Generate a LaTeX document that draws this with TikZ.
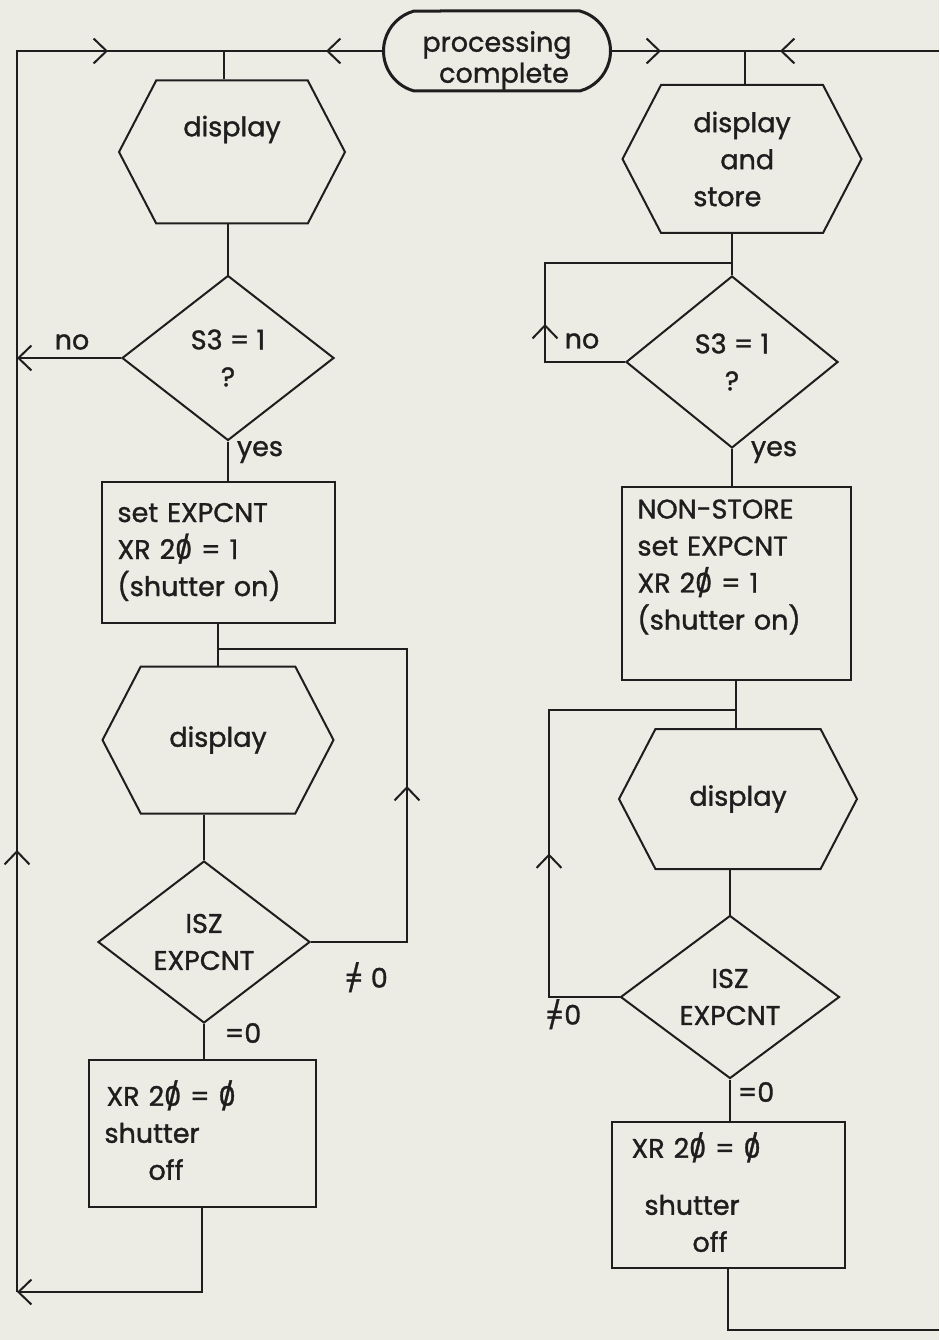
\documentclass[tikz,border=0pt]{standalone}
\usepackage{fontspec}
\setmainfont{Poppins}[FakeBold=1.2]
\usetikzlibrary{positioning,arrows.meta,shapes.geometric,shapes.symbols,shapes.misc,decorations.markings}
\definecolor{paper}{RGB}{236,235,228}
\definecolor{ink}{RGB}{30,30,30}
% slashed zero and slashed equals as printed in the chart
\newcommand{\szero}{\ooalign{0\cr\hidewidth/\hidewidth\cr}}
\newcommand{\sneq}{\ooalign{=\cr\hidewidth/\hidewidth\cr}}

\begin{document}
\begin{tikzpicture}[
  x=1pt, y=-1pt,
  every node/.style={font=\fontsize{27}{37}\selectfont, text=ink},
  wire/.style={draw=ink, line width=2pt},
  chev/.tip={Straight Barb[length=13pt,width=25pt]},
  tipat/.style={postaction={decorate,decoration={markings,mark=at position #1 with {\arrow{chev}}}}},
  termbox/.style={draw=ink, line width=3pt, rounded rectangle, rounded rectangle arc length=150, minimum width=231pt, minimum height=80pt, align=center, inner sep=2pt},
  hexbox/.style={draw=ink, line width=2pt, signal, signal to=east and west, signal pointer angle=125, minimum width=232pt, minimum height=144pt, inner sep=2pt, align=center},
  decision/.style={draw=ink, line width=2pt, diamond, aspect=1.3, minimum width=212pt, minimum height=165pt, inner sep=0pt, align=center},
  procbox/.style={draw=ink, line width=2pt, rectangle, inner xsep=16pt, align=left},
  lbl/.style={inner sep=1pt}
]
\path[use as bounding box, fill=paper] (0,0) rectangle (939,1340);

% start
\node[termbox] (term) at (497,51) {\raisebox{-15pt}[0pt][0pt]{\begin{tabular}{@{}c@{}}processing\\[-6pt]\hspace*{14pt}complete\end{tabular}}};

% left branch
\node[hexbox, minimum width=226pt, minimum height=143pt, text depth=52pt] (hexA) at (232,152) {display};
\node[decision] (decA) at (228,358) {S3 = 1\\?};
\node[procbox, minimum height=141pt, text width=201pt] (setA) at (218,552) {set EXPCNT\\XR 2\szero{} = 1\\(shutter on)};
\node[hexbox, minimum width=231pt, minimum height=147pt] (hexB) at (218,740) {display};
\node[decision, minimum height=162pt] (decB) at (204,942) {ISZ\\EXPCNT};
\node[procbox, minimum height=147pt, text width=195pt] (offA) at (202,1133) {\hspace*{2pt}XR 2\szero{} = \szero\\shutter\\\hspace*{44pt}off};

% right branch
\node[hexbox, minimum width=239pt, minimum height=148pt, align=left] (hexC) at (742,159) {display\\\hspace*{27pt}and\\store};
\node[decision, minimum height=172pt] (decC) at (732,362) {S3 = 1\\?};
\node[procbox, minimum height=193pt, text width=197pt] (setB) at (736,583) {NON-STORE\\set EXPCNT\\XR 2\szero{} = 1\\(shutter on)\\\mbox{}};
\node[hexbox, minimum width=238pt, minimum height=140pt] (hexD) at (738,799) {display};
\node[decision, minimum width=219pt, minimum height=163pt] (decD) at (730,997) {ISZ\\EXPCNT};
\node[procbox, minimum height=146pt, text width=201pt] (offB) at (728,1195) {\hspace*{4pt}XR 2\szero{} = \szero\\[20pt]\hspace*{17pt}shutter\\\hspace*{65pt}off};

% labels
\node[lbl] (noA) at (72,342) {no};
\node[lbl] (yesA) at (260,452) {yes};
\node[lbl] (neqB) at (366,980) {\sneq{} 0};
\node[lbl] (eqB) at (243,1033) {=0};
\node[lbl] (noC) at (582,341) {no};
\node[lbl] (yesC) at (774,452) {yes};
\node[lbl] (neqD) at (563,1017) {\sneq0};
\node[lbl] (eqD) at (756,1092) {=0};

% junctions and corners
\coordinate (jA) at (224,51);
\coordinate (jB) at (218,649);
\coordinate (loopB) at (407,649);
\coordinate (cornerTL) at (17,51);
\coordinate (cornerBL) at (17,1292);
\coordinate (jC) at (745,51);
\coordinate (edgeTR) at (939,51);
\coordinate (jD) at (732,263);
\coordinate (loopC) at (545,263);
\coordinate (jE) at (736,710);
\coordinate (loopE) at (549,710);
\coordinate (edgeBR) at (939,1330);

% top line
\draw[wire, tipat=56pt] (term.west) -- (jA);
\draw[wire, tipat=49pt] (term.east) -- (jC);
\draw[wire, tipat=159pt] (edgeTR) -- (jC);

% left flow
\draw[wire] (jA) -- (jA |- hexA.north);
\draw[wire] (decA.north |- hexA.south) -- (decA.north);
\draw[wire] (decA.south) -- (decA.south |- setA.north);
\draw[wire, -{chev}] (decA.west) -- (decA.west -| cornerBL);
\draw[wire] (setA.south -| hexB.north) -- (hexB.north);
\draw[wire] (decB.north |- hexB.south) -- (decB.north);
\draw[wire, tipat=252pt] (decB.east) -| (loopB) -- (jB);
\draw[wire] (decB.south) -- (decB.south |- offA.north);
\draw[wire, -{chev}] (offA.south) |- (cornerBL);
\draw[wire, tipat=442pt, tipat=1332pt] (cornerBL) -- (cornerTL) -- (jA);

% right flow
\draw[wire] (jC) -- (jC |- hexC.north);
\draw[wire] (decC.north |- hexC.south) -- (decC.north);
\draw[wire, tipat=118pt] (decC.west) -| (loopC) -- (jD);
\draw[wire] (decC.south) -- (decC.south |- setB.north);
\draw[wire] (setB.south) -- (setB.south |- hexD.north);
\draw[wire] (decD.north |- hexD.south) -- (decD.north);
\draw[wire, tipat=214pt] (decD.west) -| (loopE) -- (jE);
\draw[wire] (decD.south) -- (decD.south |- offB.north);
\draw[wire] (offB.south) |- (edgeBR);
\end{tikzpicture}
\end{document}
